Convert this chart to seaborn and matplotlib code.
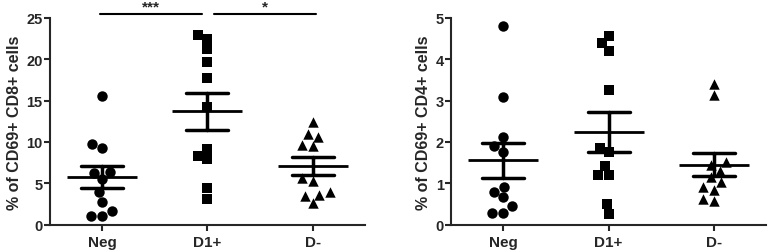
import pandas as pd
import numpy as np
import seaborn as sns
import matplotlib.pyplot as plt

sns.set_style("ticks")
plt.rcParams["font.family"] = ["Liberation Sans", "DejaVu Sans"]
plt.rcParams["font.weight"] = "bold"
plt.rcParams["axes.labelweight"] = "bold"

groups = ["Neg", "D1+", "D-"]
markers = {"Neg": "o", "D1+": "s", "D-": "^"}
sizes = {"Neg": 7.5, "D1+": 7, "D-": 7.5}

# % of CD69+ CD8+ cells
cd8_neg = [15.6, 9.75, 9.3, 6.4, 6.3, 5.5, 4.0, 2.8, 1.6, 1.05, 1.1]
cd8_d1 = [22.9, 22.4, 21.2, 19.7, 17.7, 14.2, 8.3, 7.9, 9.1, 4.45, 3.1]
cd8_dm = [12.4, 10.6, 11.0, 9.5, 9.6, 5.7, 5.3, 3.6, 3.5, 4.0, 2.6]

# % of CD69+ CD4+ cells
cd4_neg = [4.80, 3.09, 2.11, 1.91, 1.77, 0.92, 0.80, 0.66, 0.45, 0.29, 0.29]
cd4_d1 = [4.57, 4.39, 4.21, 3.26, 1.86, 1.75, 1.41, 1.21, 1.19, 0.50, 0.27]
cd4_dm = [3.40, 3.14, 1.51, 1.45, 1.31, 1.15, 1.04, 0.92, 0.85, 0.58, 0.62]


def long_df(a, b, c):
    return pd.DataFrame({
        "group": ["Neg"] * len(a) + ["D1+"] * len(b) + ["D-"] * len(c),
        "value": a + b + c,
    })


df8 = long_df(cd8_neg, cd8_d1, cd8_dm)
df4 = long_df(cd4_neg, cd4_d1, cd4_dm)

fig = plt.figure(figsize=(7.68, 2.53), dpi=100)
ax1 = fig.add_axes([0.0645, 0.108, 0.411, 0.817])
ax2 = fig.add_axes([0.587, 0.108, 0.411, 0.817])


def panel(ax, df, ymax, step, ylabel):
    for g in groups:
        sub = df[df.group == g]
        sns.swarmplot(x=sub.group, y=sub.value, order=groups, marker=markers[g],
                      size=sizes[g], color="black", linewidth=0, ax=ax)
    sns.pointplot(data=df, x="group", y="value", order=groups, errorbar="se",
                  capsize=0.4, marker="_", markersize=50, markeredgewidth=2,
                  linestyle="none", color="black", err_kws={"linewidth": 2.5},
                  ax=ax)
    ax.set_xlim(-0.5, 2.5)
    ax.set_ylim(0, ymax)
    ax.set_yticks(np.arange(0, ymax + step / 2, step))
    ax.set_xlabel("")
    ax.set_ylabel(ylabel, fontsize=11.5, fontweight="bold", labelpad=3)
    ax.tick_params(axis="x", labelsize=11, width=1.5, length=4)
    ax.tick_params(axis="y", labelsize=10.5, width=1.5, length=4, pad=1)
    for s in ["left", "bottom"]:
        ax.spines[s].set_linewidth(1.5)
    sns.despine(ax=ax, top=True, right=True)


panel(ax1, df8, 25, 5, "% of CD69+ CD8+ cells")
panel(ax2, df4, 5, 1, "% of CD69+ CD4+ cells")

# significance bars
for x0, x1, lab in [(-0.02, 0.95, "***"), (1.06, 2.03, "*")]:
    ax1.plot([x0, x1], [25.5, 25.5], color="black", lw=1.5, clip_on=False)
    ax1.text((x0 + x1) / 2, 25.5, lab, ha="center", va="bottom", fontsize=11,
             fontweight="bold")

plt.savefig("out.png", dpi=100)
